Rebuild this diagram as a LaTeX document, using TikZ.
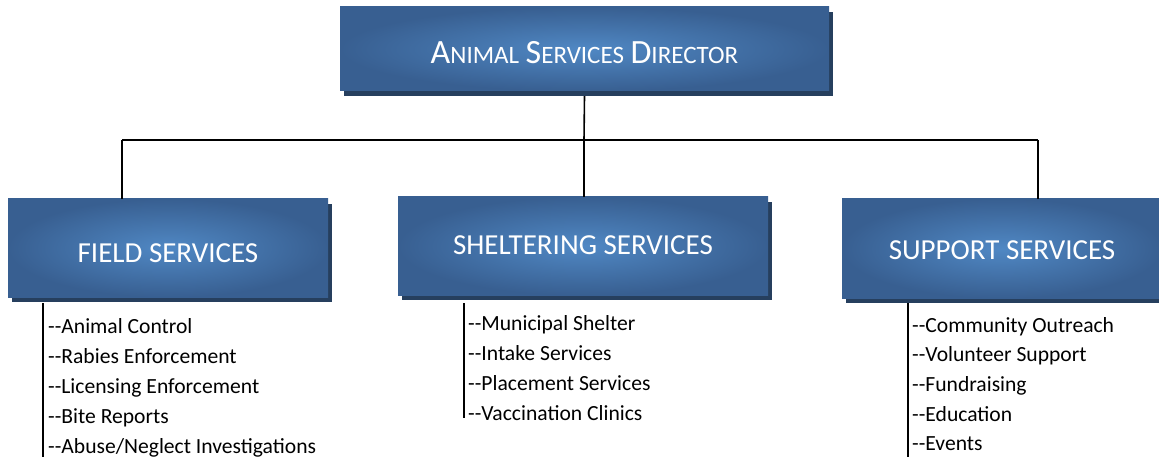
\documentclass[tikz,border=0pt]{standalone}
\usepackage{fontspec}
\setmainfont{Carlito}
\usetikzlibrary{shadows}
\definecolor{boxin}{HTML}{5088C4}
\definecolor{boxout}{HTML}{385F91}
\definecolor{shad}{HTML}{263F5E}
\newcommand{\bigL}[1]{{\fontsize{34}{40}\selectfont #1}}
\newcommand{\smL}[1]{{\fontsize{25}{30}\selectfont #1}}
\newcommand{\dd}{-{}-}
\tikzset{
  bluebox/.style={rectangle, inner sep=0pt, shading=radial, inner color=boxin, outer color=boxout,
    text=white, font=\fontsize{29}{34}\selectfont, text depth=0pt,
    drop shadow={shadow xshift=3.5pt, shadow yshift=-5pt, fill=shad, opacity=1}},
  item/.style={anchor=base west, inner sep=0pt, font=\fontsize{21.6}{26}\selectfont, text=black},
  conn/.style={draw=black, line width=1.6pt}
}
\begin{document}
\begin{tikzpicture}[x=1pt, y=-1pt]
\useasboundingbox[fill=white] (0,0) rectangle (1159,457);

\node[bluebox, minimum width=489pt, minimum height=84pt, text height=30pt] (dir) at (584.5,49)
  {\bigL{A}\smL{NIMAL} \bigL{S}\smL{ERVICES} \bigL{D}\smL{IRECTOR}};
\node[bluebox, minimum width=320pt, minimum height=98pt, text height=28.6pt] (field) at (168,248) {FIELD SERVICES};
\node[bluebox, minimum width=370pt, minimum height=98pt, text height=16.6pt] (shelter) at (583,246) {SHELTERING SERVICES};
\node[bluebox, minimum width=320pt, minimum height=99pt, text height=21.6pt] (support) at (1002,248.5) {SUPPORT SERVICES};

% connectors
\coordinate (bar) at (584,140);
\coordinate (barL) at (122,140);
\coordinate (barR) at (1038,140);
\draw[conn] (dir.south) ++(0,5) coordinate (dirb) -- (bar);
\draw[conn] (barL) -- (barR);
\draw[conn] (barL) -- (barL |- field.north);
\draw[conn] (bar) -- (bar |- shelter.north);
\draw[conn] (barR) -- (barR |- support.north);

% list lines
\coordinate (fs) at (43,303);
\coordinate (fe) at (43,460);
\coordinate (ss) at (464,303);
\coordinate (se) at (464,418);
\coordinate (us) at (908,303);
\coordinate (ue) at (908,460);
\draw[conn] (fs) -- (fe);
\draw[conn] (ss) -- (se);
\draw[conn] (us) -- (ue);

% field items
\node[item] (f1) at (48,333) {\dd Animal Control};
\node[item] (f2) at (48,363) {\dd Rabies Enforcement};
\node[item] (f3) at (48,393) {\dd Licensing Enforcement};
\node[item] (f4) at (48,423) {\dd Bite Reports};
\node[item] (f5) at (48,453) {\dd Abuse/Neglect Investigations};

% shelter items
\node[item] (s1) at (468,330) {\dd Municipal Shelter};
\node[item] (s2) at (468,360) {\dd Intake Services};
\node[item] (s3) at (468,390) {\dd Placement Services};
\node[item] (s4) at (468,420) {\dd Vaccination Clinics};

% support items
\node[item] (u1) at (912,332) {\dd Community Outreach};
\node[item] (u2) at (912,361.5) {\dd Volunteer Support};
\node[item] (u3) at (912,391) {\dd Fundraising};
\node[item] (u4) at (912,421) {\dd Education};
\node[item] (u5) at (912,450.5) {\dd Events};
\end{tikzpicture}
\end{document}
